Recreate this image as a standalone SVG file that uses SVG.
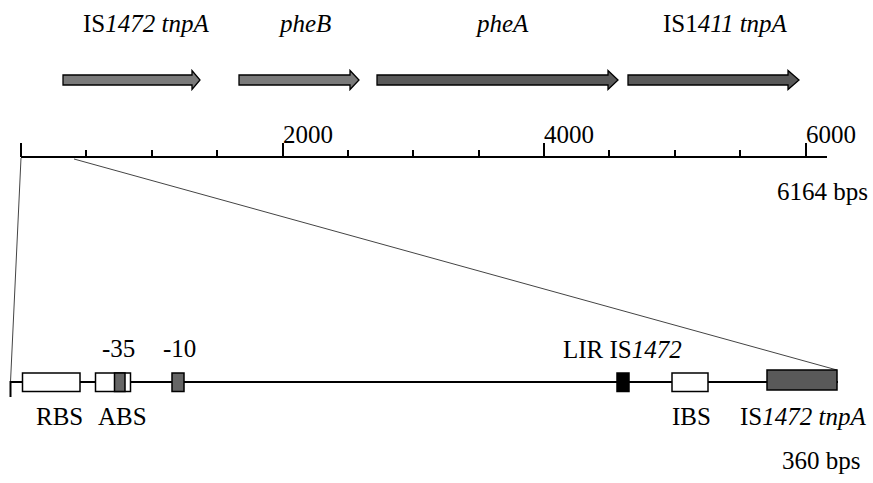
<svg xmlns="http://www.w3.org/2000/svg" width="873" height="483" viewBox="0 0 873 483">
  <style>
    .lbl { font-family: "Liberation Serif", "Times New Roman", serif; font-size: 25px; fill: #000; }
    .it { font-style: italic; }
    .gene { stroke: #000; stroke-width: 1.3; }
    .light { fill: #7a7a7a; }
    .dark { fill: #595959; }
    .axis { stroke: #000; stroke-width: 2; fill: none; }
    .tick { stroke: #000; stroke-width: 2; }
    .zoomline { stroke: #444; stroke-width: 1; fill: none; }
    .box { stroke: #000; stroke-width: 1.5; }
  </style>

  <!-- gene arrows of the 6164 bp region -->
  <g id="is1472-tnpA-gene">
    <path class="gene light" d="M63,75 H192 V70.5 L200,80 L192,89.5 V85 H63 Z"/>
    <text class="lbl" x="83" y="32">IS<tspan class="it">1472 tnpA</tspan></text>
  </g>
  <g id="pheB-gene">
    <path class="gene light" d="M239,75 H350 V70.5 L359,80 L350,89.5 V85 H239 Z"/>
    <text class="lbl it" x="280" y="32">pheB</text>
  </g>
  <g id="pheA-gene">
    <path class="gene dark" d="M377,75 H608 V70.5 L618,80 L608,89.5 V85 H377 Z"/>
    <text class="lbl it" x="477" y="32">pheA</text>
  </g>
  <g id="is1411-tnpA-gene">
    <path class="gene dark" d="M628,75 H788 V70.5 L799,80 L788,89.5 V85 H628 Z"/>
    <text class="lbl" x="663" y="32">IS1<tspan class="it">411 tnpA</tspan></text>
  </g>

  <!-- bp scale -->
  <g id="scale">
    <line class="axis" x1="21" y1="157" x2="827" y2="157"/>
    <path class="tick" d="M21,143V157 M283,143V157 M544,143V157 M806,143V157
                          M86,150V157 M152,150V157 M217,150V157 M348,150V157 M413,150V157
                          M479,150V157 M609,150V157 M675,150V157 M740,150V157"/>
    <text class="lbl" x="283" y="143">2000</text>
    <text class="lbl" x="544" y="143">4000</text>
    <text class="lbl" x="806" y="143">6000</text>
    <text class="lbl" x="777" y="200">6164 bps</text>
  </g>

  <!-- expansion lines to the 360 bp detail -->
  <g id="connectors">
    <line class="zoomline" x1="21" y1="158" x2="10.5" y2="382"/>
    <line class="zoomline" x1="74" y1="159" x2="837" y2="370"/>
  </g>

  <!-- 360 bp detail -->
  <g id="detail-line">
    <line class="axis" x1="10.5" y1="382" x2="838" y2="382"/>
    <line class="tick" x1="10.5" y1="381" x2="10.5" y2="397"/>
    <text class="lbl" x="782" y="469">360 bps</text>
  </g>
  <g id="RBS">
    <rect class="box" x="22.5" y="373" width="57.5" height="18.5" fill="#fff"/>
    <text class="lbl" x="36" y="425">RBS</text>
  </g>
  <g id="ABS">
    <rect class="box" x="95.5" y="373" width="35" height="18.5" fill="#fff"/>
    <rect class="box" x="114.5" y="373" width="10.5" height="18.5" fill="#666"/>
    <text class="lbl" x="98" y="425">ABS</text>
    <text class="lbl" x="102" y="357">-35</text>
  </g>
  <g id="minus10">
    <rect class="box" x="172" y="373" width="12" height="18.5" fill="#666"/>
    <text class="lbl" x="163" y="357">-10</text>
  </g>
  <g id="LIR-IS1472">
    <rect class="box" x="617" y="373" width="12" height="18.5" fill="#000"/>
    <text class="lbl" x="563" y="358">LIR IS<tspan class="it">1472</tspan></text>
  </g>
  <g id="IBS">
    <rect class="box" x="672" y="373" width="36" height="18.5" fill="#fff"/>
    <text class="lbl" x="672" y="425">IBS</text>
  </g>
  <g id="is1472-tnpA-detail">
    <rect class="box" x="767" y="370" width="70" height="20" fill="#595959"/>
    <text class="lbl" x="740" y="425">IS<tspan class="it">1472 tnpA</tspan></text>
  </g>
</svg>
